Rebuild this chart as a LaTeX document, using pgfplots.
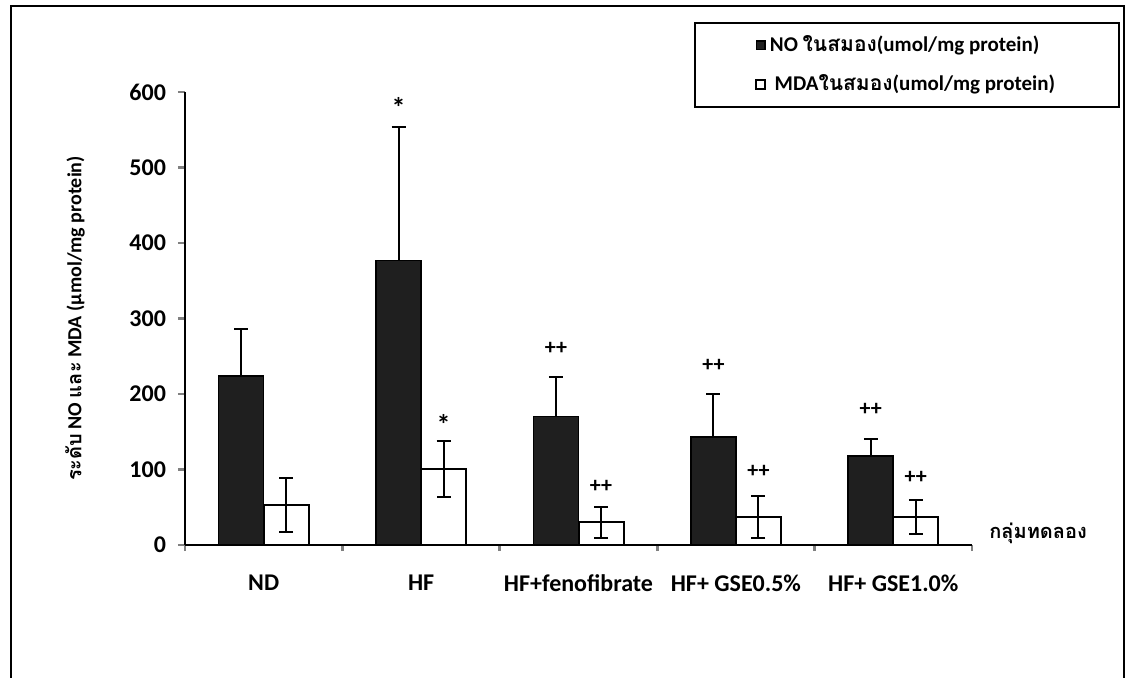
\documentclass[border=0pt]{standalone}
\usepackage{fontspec}
\setmainfont{Carlito}
\newfontfamily\thai[Script=Thai]{Loma}
\usepackage{pgfplots}
\usepackage{pgfplotstable}
\pgfplotsset{compat=1.18}
\pgfplotstableread{
x xno xmda no noerr mda mdaerr
0 -0.143 0.143 224 62 53 36
1 0.857 1.143 377 177 101 37
2 1.857 2.143 170 52 30 21
3 2.857 3.143 143 57 37 28
4 3.857 4.143 118 22 37 23
}\data
\pgfplotstableread{
x y label
0.857 580 *
1.143 160 *
}\stars
\pgfplotstableread{
x y label
1.857 260 ++
2.143 78 ++
2.857 238 ++
3.143 97 ++
3.857 180 ++
4.143 90 ++
}\marks
\begin{document}
\begin{tikzpicture}
\useasboundingbox (-92.5pt,-66pt) rectangle (471.5pt,272.5pt);
\draw[line width=1pt] (-87pt,-70pt) -- (-87pt,269.5pt) -- (469.5pt,269.5pt) -- (469.5pt,-70pt);
\begin{axis}[
  at={(0pt,0pt)}, anchor=south west,
  scale only axis, width=393.5pt, height=226.5pt,
  xmin=-0.5, xmax=4.5, ymin=0, ymax=600,
  axis lines*=left,
  axis line style={line width=1.4pt},
  clip=false,
  xtick={0,1,2,3,4},
  xticklabels={ND,HF,HF+fenofibrate,HF+ GSE0.5\%,HF+ GSE1.0\%},
  minor xtick={-0.5,0.5,1.5,2.5,3.5,4.5},
  major x tick style={draw=none},
  minor x tick style={line width=1.4pt},
  minor tick length=3pt,
  ytick={0,100,200,300,400,500,600},
  major y tick style={line width=1.4pt},
  major tick length=3.5pt,
  tick align=outside,
  /pgf/number format/assume math mode=true,
  ticklabel style={font=\fontsize{12}{14}\selectfont\bfseries},
  xticklabel style={yshift=-8pt},
  yticklabel style={xshift=-2.5pt},
  ylabel={\bfseries\fontsize{10}{12}\selectfont{\thai ระดับ} NO {\thai และ} MDA (µmol/mg protein)},
  ylabel style={at={(axis description cs:-0.1398,0.5)}, anchor=center},
  xlabel={\bfseries\fontsize{10}{12}\selectfont\thai กลุ่มทดลอง},
  xlabel style={at={(axis description cs:1.084,0.0265)}, anchor=center},
  legend style={at={(axis description cs:1.188,1.1545)}, anchor=north east,
    draw=black, line width=0.8pt, inner xsep=30pt, inner ysep=4.5pt,
    row sep=6pt, font=\fontsize{10.5}{12}\selectfont\bfseries},
  legend cell align=left,
]
\addplot[ybar, bar width=22.5pt, bar shift=0pt, fill=black!88, draw=black, line width=0.8pt,
  legend image code/.code={\draw[fill=black!88,draw=black,line width=0.6pt] (0pt,-2.2pt) rectangle (4.4pt,2.2pt);},
  error bars/.cd, y dir=plus, y explicit,
  error bar style={line width=1pt, black},
  error mark options={rotate=90, mark size=3.5pt, line width=1pt, black},
  ]
  table[x=xno, y=no, y error=noerr]{\data};
\addlegendentry{NO {\thai ในสมอง}(umol/mg protein)}
\addplot[ybar, bar width=22.5pt, bar shift=0pt, fill=white, draw=black, line width=1pt,
  legend image code/.code={\draw[fill=white,draw=black,line width=1pt] (0pt,-2.2pt) rectangle (4.4pt,2.2pt);},
  error bars/.cd, y dir=both, y explicit,
  error bar style={line width=1pt, black},
  error mark options={rotate=90, mark size=3.5pt, line width=1pt, black},
  ]
  table[x=xmda, y=mda, y error=mdaerr]{\data};
\addlegendentry{\ MDA{\thai ในสมอง}(umol/mg protein)}
\addplot[only marks, mark=none, forget plot, nodes near coords, point meta=explicit symbolic,
  nodes near coords style={anchor=center, font=\fontsize{14}{14}\selectfont\bfseries}]
  table[x=x, y=y, meta=label]{\stars};
\addplot[only marks, mark=none, forget plot, nodes near coords, point meta=explicit symbolic,
  nodes near coords style={anchor=center, font=\fontsize{11}{12}\selectfont\bfseries}]
  table[x=x, y=y, meta=label]{\marks};
\end{axis}
\end{tikzpicture}
\end{document}
